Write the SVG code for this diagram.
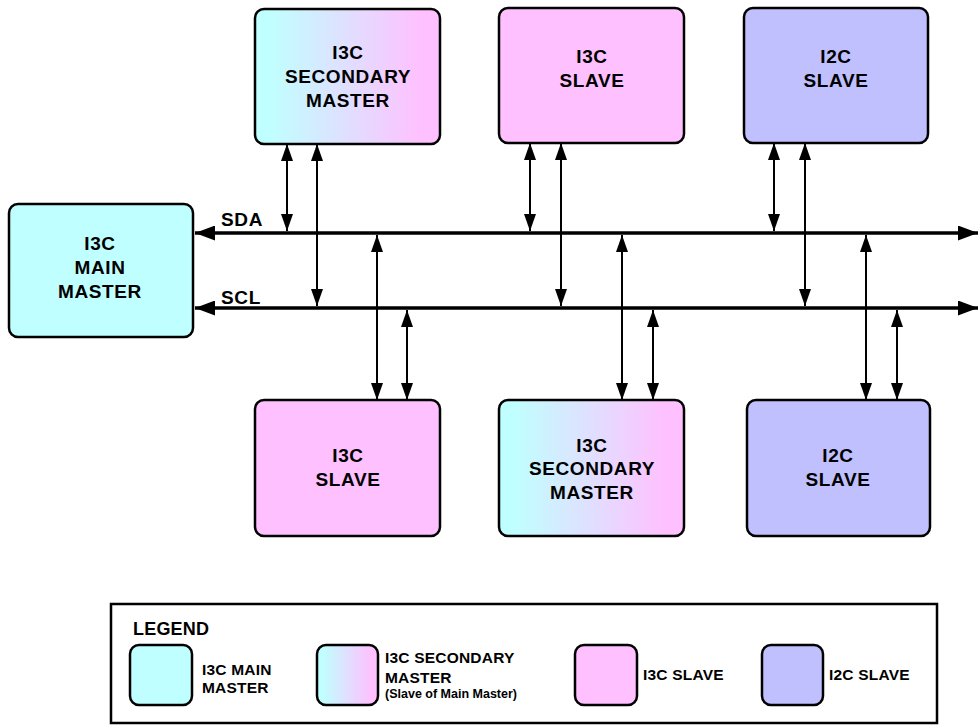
<svg xmlns="http://www.w3.org/2000/svg" width="978" height="725" viewBox="0 0 978 725">
<defs>
<linearGradient id="sec" x1="0" y1="0" x2="1" y2="0">
<stop offset="0.08" stop-color="#C0FFFF"/>
<stop offset="0.9" stop-color="#FFC0FF"/>
</linearGradient>
<marker id="va" viewBox="0 0 17 12" refX="17" refY="6" markerWidth="17" markerHeight="12" markerUnits="userSpaceOnUse" orient="auto-start-reverse">
<path d="M0,0 L17,6 L0,12 z" fill="#000"/>
</marker>
<marker id="ba" viewBox="0 0 20 15" refX="20" refY="7.5" markerWidth="20" markerHeight="15" markerUnits="userSpaceOnUse" orient="auto-start-reverse">
<path d="M0,0 L20,7.5 L0,15 z" fill="#000"/>
</marker>
</defs>
<style>
.box{stroke:#000;stroke-width:2.5}
.main{fill:#C0FFFF}
.sec{fill:url(#sec)}
.i3c{fill:#FFC0FF}
.i2c{fill:#C0C0FF}
.t{font-family:"Liberation Sans",Arial,sans-serif;font-weight:bold;font-size:19px;letter-spacing:0.6px;text-anchor:middle;fill:#000}
.lt{font-family:"Liberation Sans",Arial,sans-serif;font-weight:bold;font-size:15.5px;letter-spacing:0.2px;fill:#000}
.ls{font-family:"Liberation Sans",Arial,sans-serif;font-weight:bold;font-size:12.5px;fill:#000}
.bus{stroke:#000;stroke-width:3.5;fill:none}
.v{stroke:#000;stroke-width:2;fill:none}
</style>
<g id="connectors">
<line class="bus" x1="195" y1="233" x2="978" y2="233" marker-start="url(#ba)" marker-end="url(#ba)"/>
<line class="bus" x1="195" y1="308" x2="978" y2="308" marker-start="url(#ba)" marker-end="url(#ba)"/>
<text class="t" x="242" y="226">SDA</text>
<text class="t" x="241" y="304">SCL</text>
<line class="v" x1="287" y1="144" x2="287" y2="231" marker-start="url(#va)" marker-end="url(#va)"/>
<line class="v" x1="317" y1="144" x2="317" y2="306" marker-start="url(#va)" marker-end="url(#va)"/>
<line class="v" x1="530" y1="143" x2="530" y2="231" marker-start="url(#va)" marker-end="url(#va)"/>
<line class="v" x1="561" y1="143" x2="561" y2="306" marker-start="url(#va)" marker-end="url(#va)"/>
<line class="v" x1="774" y1="143" x2="774" y2="231" marker-start="url(#va)" marker-end="url(#va)"/>
<line class="v" x1="805" y1="143" x2="805" y2="306" marker-start="url(#va)" marker-end="url(#va)"/>
<line class="v" x1="377" y1="235" x2="377" y2="400" marker-start="url(#va)" marker-end="url(#va)"/>
<line class="v" x1="407" y1="310" x2="407" y2="400" marker-start="url(#va)" marker-end="url(#va)"/>
<line class="v" x1="622" y1="235" x2="622" y2="400" marker-start="url(#va)" marker-end="url(#va)"/>
<line class="v" x1="653" y1="310" x2="653" y2="400" marker-start="url(#va)" marker-end="url(#va)"/>
<line class="v" x1="866" y1="235" x2="866" y2="400" marker-start="url(#va)" marker-end="url(#va)"/>
<line class="v" x1="897" y1="310" x2="897" y2="400" marker-start="url(#va)" marker-end="url(#va)"/>
</g>
<g id="main-master">
<rect class="box main" x="9" y="204" width="184" height="133" rx="9"/>
<text class="t" x="100" y="250">I3C</text>
<text class="t" x="100" y="274">MAIN</text>
<text class="t" x="100" y="298">MASTER</text>
</g>
<g id="top-secondary-master">
<rect class="box sec" x="255" y="9" width="185" height="135" rx="9"/>
<text class="t" x="348" y="59">I3C</text>
<text class="t" x="348" y="83">SECONDARY</text>
<text class="t" x="348" y="107">MASTER</text>
</g>
<g id="top-i3c-slave">
<rect class="box i3c" x="499" y="8" width="185" height="135" rx="9"/>
<text class="t" x="592" y="63">I3C</text>
<text class="t" x="592" y="87">SLAVE</text>
</g>
<g id="top-i2c-slave">
<rect class="box i2c" x="744" y="8" width="184" height="135" rx="9"/>
<text class="t" x="836" y="63">I2C</text>
<text class="t" x="836" y="87">SLAVE</text>
</g>
<g id="bottom-i3c-slave">
<rect class="box i3c" x="255" y="400" width="185" height="136" rx="9"/>
<text class="t" x="348" y="462">I3C</text>
<text class="t" x="348" y="486">SLAVE</text>
</g>
<g id="bottom-secondary-master">
<rect class="box sec" x="499" y="400" width="185" height="136" rx="9"/>
<text class="t" x="592" y="452">I3C</text>
<text class="t" x="592" y="475">SECONDARY</text>
<text class="t" x="592" y="499">MASTER</text>
</g>
<g id="bottom-i2c-slave">
<rect class="box i2c" x="747" y="400" width="183" height="136" rx="9"/>
<text class="t" x="838" y="462">I2C</text>
<text class="t" x="838" y="486">SLAVE</text>
</g>
<g id="legend">
<rect x="111" y="604" width="826" height="119" fill="#fff" stroke="#000" stroke-width="2.5"/>
<text class="lt" x="133" y="635" style="font-size:18px">LEGEND</text>
<rect class="box main" x="130" y="645" width="62" height="60" rx="9"/>
<text class="lt" x="202" y="675">I3C MAIN</text>
<text class="lt" x="202" y="693">MASTER</text>
<rect class="box sec" x="317" y="645" width="61" height="60" rx="9"/>
<text class="lt" x="385" y="663">I3C SECONDARY</text>
<text class="lt" x="385" y="683">MASTER</text>
<text class="ls" x="385" y="698">(Slave of Main Master)</text>
<rect class="box i3c" x="575" y="645" width="62" height="60" rx="9"/>
<text class="lt" x="643" y="680">I3C SLAVE</text>
<rect class="box i2c" x="762" y="645" width="61" height="60" rx="9"/>
<text class="lt" x="829" y="680">I2C SLAVE</text>
</g>
</svg>
